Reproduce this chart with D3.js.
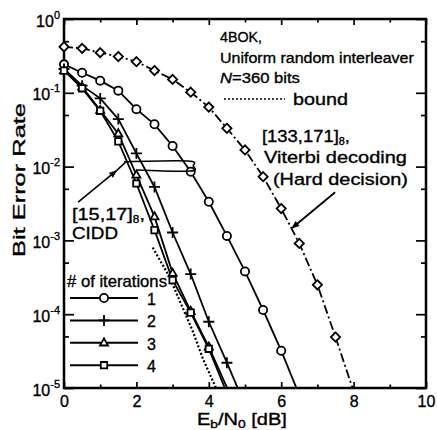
<!DOCTYPE html>
<html><head><meta charset="utf-8">
<script src="https://cdn.jsdelivr.net/npm/d3@7"></script>
<style>
html,body{margin:0;padding:0;background:#fff;}
svg{display:block;font-family:"Liberation Sans",Arial,Helvetica,sans-serif;}
svg text{stroke:#000;stroke-width:0.35px;}
</style></head><body>
<svg id="chart" width="437" height="430"></svg>
<script>
// Eb/N0 (dB) points and bit error rates for each curve
const snrViterbi = [0, 0.5, 1, 1.5, 2, 2.5, 3, 3.5, 4, 4.5, 5, 5.5, 6, 6.5, 7, 7.5, 8];
const berViterbi = [0.42, 0.40, 0.35, 0.31, 0.264, 0.20, 0.152, 0.102, 0.064, 0.033, 0.0168, 0.0073, 0.0027, 9.1e-4, 2.5e-4, 4.9e-5, 9e-6];

const snrIter1 = [0, 0.5, 1, 1.5, 2, 2.5, 3, 3.5, 4, 4.5, 5, 5.5, 6, 6.5];
const berIter1 = [0.243, 0.187, 0.146, 0.107, 0.060, 0.0374, 0.019, 0.0085, 0.00334, 0.00115, 3.8e-4, 1.14e-4, 3.2e-5, 8e-6];

const snrIter2 = [0, 0.5, 1, 1.5, 2, 2.5, 3, 3.5, 4, 4.5, 4.85];
const berIter2 = [0.21, 0.125, 0.084, 0.044, 0.0151, 0.0053, 0.00128, 3.5e-4, 7.9e-5, 2.2e-5, 8.7e-6];

const snrIter3 = [0, 0.5, 1, 1.5, 2, 2.5, 3, 3.5, 4, 4.55];
const berIter3 = [0.20, 0.12, 0.058, 0.028, 0.0077, 0.0021, 3.6e-4, 1.1e-4, 3.6e-5, 9e-6];

const snrIter4 = [0, 0.5, 1, 1.5, 2, 2.5, 3, 3.5, 4, 4.48];
const berIter4 = [0.20, 0.115, 0.057, 0.022, 0.0059, 0.00138, 2.9e-4, 1.05e-4, 3.4e-5, 9e-6];

const snrBound = [2.45, 2.9, 3.2, 3.55, 3.85, 4.2, 4.3];
const berBound = [8e-4, 3.3e-4, 1.5e-4, 6e-5, 2.4e-5, 1e-5, 8e-6];

// axis ticks
const xMajor = [0, 2, 4, 6, 8, 10];
const xMinor = [1, 3, 5, 7, 9];
const yMajor = [1, 1e-1, 1e-2, 1e-3, 1e-4, 1e-5];
const yMinor = [0.5, 0.05, 0.005, 5e-4, 5e-5];
const yExponents = ["0", "-1", "-2", "-3", "-4", "-5"];
const iterLabels = ["1", "2", "3", "4"];

// annotation anchors in data units [dB, BER]
const loopPts = [[1.66, 0.0116], [3.42, 0.0119], [3.57, 0.0102], [3.48, 0.0087], [1.99, 0.0090]];
const ciddArrow = [[0.39, 0.0033], [1.45, 0.0088]];
const ciddTail = [[1.45, 0.0088], [1.69, 0.0113]];
const viterbiArrow = [[7.49, 0.0045], [6.30, 0.00147]];

const svg = d3.select("#chart");
const x = d3.scaleLinear().domain([0, 10]).range([64, 426]);
const y = d3.scaleLog().domain([1e-5, 1]).range([388, 19]);
const [X0, X1] = x.range();
const [Y1, Y0] = y.range();

function fit(sel, w) {
  const bb = sel.node().getBBox();
  const s = w / bb.width;
  sel.attr("transform", `translate(${bb.x},0) scale(${s},1) translate(${-bb.x},0)`);
  return sel;
}

svg.append("defs").append("clipPath").attr("id", "plotclip")
  .append("rect").attr("x", X0).attr("y", Y0).attr("width", X1 - X0).attr("height", Y1 - Y0);
const arrowDef = svg.select("defs").append("marker").attr("id", "arrow")
  .attr("viewBox", "0 0 10 10").attr("refX", 9).attr("refY", 5)
  .attr("markerWidth", 10).attr("markerHeight", 8).attr("markerUnits", "userSpaceOnUse")
  .attr("orient", "auto");
arrowDef.append("path").attr("d", "M0,1L10,5L0,9Z").attr("fill", "#000");

// ticks (inward on all four sides)
function ticks(axis, tr) {
  const g = svg.append("g").attr("transform", tr).call(axis);
  g.select(".domain").remove();
  g.selectAll("line").attr("stroke", "#000").attr("stroke-width", 1.7);
  return g;
}
const bottom = ticks(d3.axisBottom(x).tickValues(xMajor).tickSize(-6).tickPadding(8).tickFormat(d3.format("d")), `translate(0,${Y1})`);
bottom.selectAll("text").attr("font-size", 16).attr("fill", "#000").attr("font-family", null);
ticks(d3.axisBottom(x).tickValues(xMinor).tickSize(-3.5).tickFormat(""), `translate(0,${Y1})`);
ticks(d3.axisTop(x).tickValues(xMajor).tickSize(-6).tickFormat(""), `translate(0,${Y0})`);
ticks(d3.axisTop(x).tickValues(xMinor).tickSize(-3.5).tickFormat(""), `translate(0,${Y0})`);
ticks(d3.axisLeft(y).tickValues(yMajor).tickSize(-10).tickFormat(""), `translate(${X0},0)`);
ticks(d3.axisLeft(y).tickValues(yMinor).tickSize(-5).tickFormat(""), `translate(${X0},0)`);
ticks(d3.axisRight(y).tickValues(yMajor).tickSize(-10).tickFormat(""), `translate(${X1},0)`);
ticks(d3.axisRight(y).tickValues(yMinor).tickSize(-5).tickFormat(""), `translate(${X1},0)`);

// y tick labels 10^n
yMajor.forEach((v, i) => {
  const t = svg.append("text").attr("x", 60).attr("y", y(v) + 7.5)
    .attr("text-anchor", "end").attr("font-size", 16);
  t.append("tspan").text("10");
  t.append("tspan").attr("dy", -8).attr("font-size", 11).text(yExponents[i]);
});

// frame
svg.append("rect").attr("x", X0).attr("y", Y0).attr("width", X1 - X0).attr("height", Y1 - Y0)
  .attr("fill", "none").attr("stroke", "#000").attr("stroke-width", 2.5);

// axis titles
const xt = svg.append("text").attr("x", 197).attr("y", 425).attr("font-size", 16);
xt.append("tspan").text("E");
xt.append("tspan").attr("dy", 3).attr("font-size", 11).text("b");
xt.append("tspan").attr("dy", -3).text("/N");
xt.append("tspan").attr("dy", 3).attr("font-size", 11).text("0");
xt.append("tspan").attr("dy", -3).text(" [dB]");
fit(xt, 90);

svg.append("text").attr("transform", "translate(25,180) rotate(-90)")
  .attr("text-anchor", "middle").attr("font-size", 17)
  .attr("textLength", 154).attr("lengthAdjust", "spacingAndGlyphs")
  .text("Bit Error Rate");

// markers
const markerPath = {
  diamond: "M0,-4.6L4.6,0L0,4.6L-4.6,0Z",
  circle: "M4.1,0A4.1,4.1 0 1,1 -4.1,0A4.1,4.1 0 1,1 4.1,0Z",
  plus: "M-5.5,0H5.5M0,-5.5V5.5",
  triangle: "M0,-4.4L4,2.7L-4,2.7Z",
  square: "M-3.2,-3.2H3.2V3.2H-3.2Z"
};

const series = [
  { snr: snrViterbi, ber: berViterbi, marker: "diamond", dash: "9,3,2,3", width: 1.8 },
  { snr: snrIter1, ber: berIter1, marker: "circle", width: 1.8 },
  { snr: snrIter2, ber: berIter2, marker: "plus", width: 1.8 },
  { snr: snrIter3, ber: berIter3, marker: "triangle", width: 1.8 },
  { snr: snrIter4, ber: berIter4, marker: "square", width: 1.8 }
];

const line = d3.line().x(d => x(d[0])).y(d => y(d[1]));
const curves = svg.append("g").attr("clip-path", "url(#plotclip)");

curves.append("path").datum(d3.zip(snrBound, berBound))
  .attr("d", line).attr("fill", "none").attr("stroke", "#000")
  .attr("stroke-width", 2.2).attr("stroke-dasharray", "2,2");

series.forEach(s => {
  curves.append("path").datum(d3.zip(s.snr, s.ber))
    .attr("d", line).attr("fill", "none").attr("stroke", "#000")
    .attr("stroke-width", s.width).attr("stroke-dasharray", s.dash || null);
});
series.forEach(s => {
  svg.append("g").selectAll("path")
    .data(d3.zip(s.snr, s.ber).filter(d => d[1] >= 1e-5))
    .join("path")
    .attr("transform", d => `translate(${x(d[0])},${y(d[1])})`)
    .attr("d", markerPath[s.marker])
    .attr("fill", "#fff").attr("stroke", "#000").attr("stroke-width", 1.8);
});

// annotations
const ann = svg.append("g").attr("font-size", 15);
fit(ann.append("text").attr("x", 220).attr("y", 42).text("4BOK,"), 42);
fit(ann.append("text").attr("x", 220).attr("y", 63).text("Uniform random interleaver"), 194);
const nt = ann.append("text").attr("x", 220).attr("y", 83);
nt.append("tspan").attr("font-style", "italic").text("N");
nt.append("tspan").text("=360 bits");
fit(nt, 80);
ann.append("line").attr("x1", 224).attr("x2", 285).attr("y1", 99).attr("y2", 99)
  .attr("stroke", "#000").attr("stroke-width", 1.7).attr("stroke-dasharray", "2,2");
fit(ann.append("text").attr("x", 293).attr("y", 105).attr("font-size", 17).text("bound"), 55);

const vt = ann.append("text").attr("x", 262).attr("y", 142).attr("font-size", 17);
vt.append("tspan").text("[133,171]");
vt.append("tspan").attr("dy", 3).attr("font-size", 10).text("8");
vt.append("tspan").attr("dy", -3).text(",");
fit(vt, 88);
fit(ann.append("text").attr("x", 264).attr("y", 163).attr("font-size", 17).text("Viterbi decoding"), 143);
fit(ann.append("text").attr("x", 273).attr("y", 185).attr("font-size", 17).text("(Hard decision)"), 135);

const ct = ann.append("text").attr("x", 72).attr("y", 220).attr("font-size", 17);
ct.append("tspan").text("[15,17]");
ct.append("tspan").attr("dy", 3).attr("font-size", 10).text("8");
ct.append("tspan").attr("dy", -3).text(",");
fit(ct, 73);
fit(ann.append("text").attr("x", 72).attr("y", 239).attr("font-size", 17).text("CIDD"), 46);

const pline = d3.line().x(d => x(d[0])).y(d => y(d[1]));
ann.append("path").datum(loopPts).attr("d", d3.line().x(d => x(d[0])).y(d => y(d[1])).curve(d3.curveCardinal))
  .attr("fill", "none").attr("stroke", "#000").attr("stroke-width", 1.6);
ann.append("path").datum(ciddArrow).attr("d", pline)
  .attr("fill", "none").attr("stroke", "#000").attr("stroke-width", 1.6).attr("marker-end", "url(#arrow)");
ann.append("path").datum(ciddTail).attr("d", pline)
  .attr("fill", "none").attr("stroke", "#000").attr("stroke-width", 1.6);
ann.append("path").datum(viterbiArrow).attr("d", pline)
  .attr("fill", "none").attr("stroke", "#000").attr("stroke-width", 1.8).attr("marker-end", "url(#arrow)");

// legend
const leg = svg.append("g");
fit(leg.append("text").attr("x", 67).attr("y", 287).attr("font-size", 16).text("# of iterations"), 100);
series.slice(1).forEach((s, i) => {
  const ly = 298 + i * 22.4;
  leg.append("line").attr("x1", 70).attr("x2", 138).attr("y1", ly).attr("y2", ly)
    .attr("stroke", "#000").attr("stroke-width", 2);
  leg.append("path").attr("transform", `translate(104,${ly})`).attr("d", markerPath[s.marker])
    .attr("fill", "#fff").attr("stroke", "#000").attr("stroke-width", 1.8);
  leg.append("text").attr("x", 147).attr("y", ly + 7).attr("font-size", 16).text(iterLabels[i]);
});
</script></body></html>
